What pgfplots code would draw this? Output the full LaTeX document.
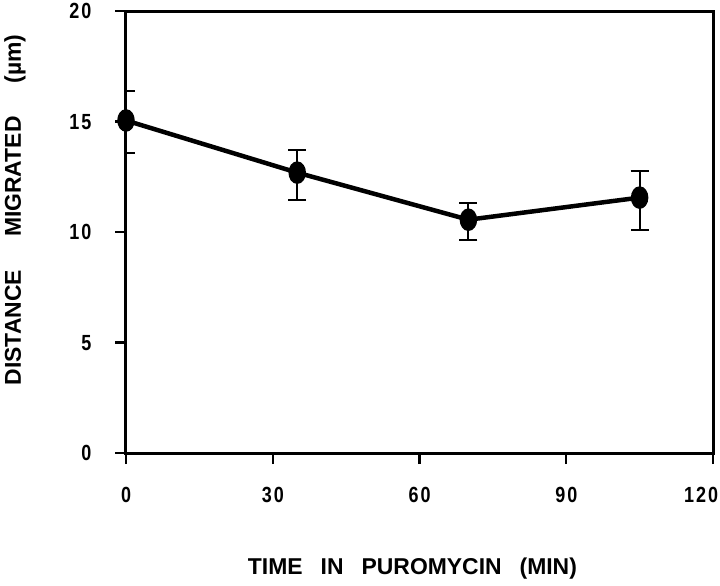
\documentclass[border=0pt]{standalone}
\usepackage{fontspec}
\setmainfont{Liberation Sans}
\usepackage{graphicx}
\usepackage{pgfplots}
\pgfplotsset{compat=1.18}
\newcommand\dg[1]{\scalebox{0.82}[1]{#1}}
\newcommand\tk{\kern2bp}
\begin{document}
\begin{tikzpicture}
\begin{axis}[name=ax, scale only axis, width=587bp, height=442bp,
  xmin=0, xmax=120, ymin=0, ymax=20,
  xtick={0,30,60,90,120}, ytick={0,5,10,15,20},
  xticklabels={\makebox[0pt]{\dg{0}},\makebox[0pt]{\dg{3}\tk\dg{0}},\makebox[0pt]{\dg{6}\tk\dg{0}},\makebox[0pt]{\dg{9}\tk\dg{0}},\makebox[0pt]{\hspace*{-24bp}\dg{1}\tk\dg{2}\tk\dg{0}}},
  yticklabels={\dg{0},\dg{5},\dg{1}\tk\dg{0},\dg{1}\tk\dg{5},\dg{2}\tk\dg{0}},
  tick align=outside, major tick length=11bp,
  tick style={line width=2.2bp, black},
  xtick pos=bottom, ytick pos=left,
  axis line style={line width=3bp},
  ticklabel style={font=\fontsize{22}{25}\selectfont\bfseries},
  xticklabel style={yshift=-20bp}, yticklabel style={xshift=-20bp},
  xlabel={TIME\hspace{18bp}IN\hspace{18bp}PUROMYCIN\hspace{18bp}(MIN)},
  ylabel={DISTANCE\hspace{33bp}MIGRATED\hspace{33bp}(µm)},
  label style={font=\fontsize{23}{26}\selectfont\bfseries},
  xlabel style={at={(axis description cs:0.488,-0.262)}, anchor=center},
  ylabel style={at={(axis description cs:-0.189,0.55)}, anchor=center},
]
\addplot[black, line width=4.5bp, mark=*, mark size=9bp,
  mark options={xscale=0.72, solid, fill=black},
  error bars/.cd, y dir=both, y explicit,
  error bar style={line width=2bp, black},
  error mark options={rotate=90, mark size=9bp, line width=2bp, black}]
  table[x=x, y=y, y error plus=ep, y error minus=em] {
x y ep em
0 15.05 1.35 1.45
35 12.69 1.04 1.22
70 10.56 0.77 0.90
105 11.56 1.22 1.47
};
\end{axis}
\path[use as bounding box] ([shift={(-126bp,-132bp)}]ax.south west) rectangle ([shift={(7bp,10bp)}]ax.north east);
\end{tikzpicture}
\end{document}
